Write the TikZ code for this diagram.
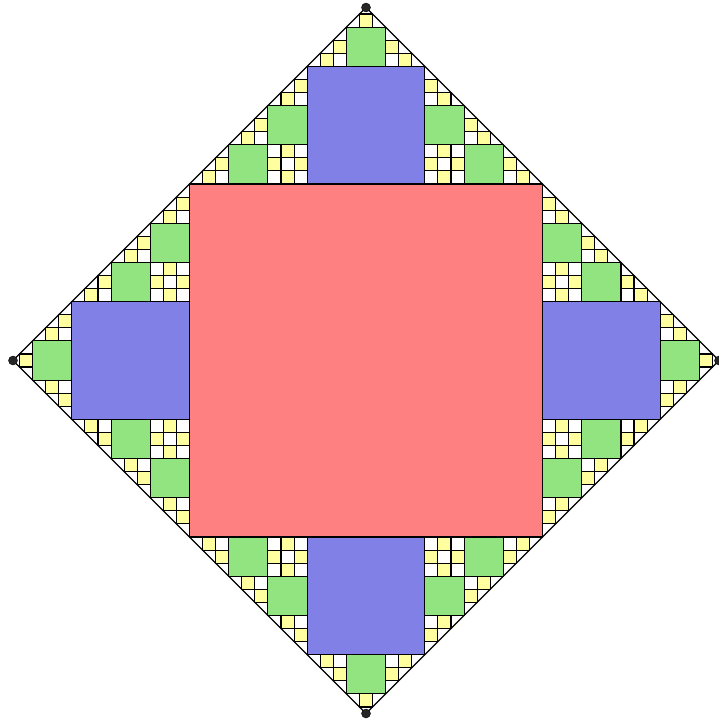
\documentclass[tikz,border=0pt]{standalone}
\definecolor{cred}{RGB}{255,128,128}
\definecolor{cblue}{RGB}{128,128,230}
\definecolor{cgreen}{RGB}{145,228,128}
\definecolor{cyellow}{RGB}{255,255,160}
\tikzset{
  sq/.style={draw=black,line width=1.1pt,line join=miter},
  lev0/.style={sq,fill=cred},
  lev1/.style={sq,fill=cblue},
  lev2/.style={sq,fill=cgreen},
  lev3/.style={sq,fill=cyellow},
  edgeline/.style={draw=black,line width=1.1pt},
  vdot/.style={fill=black!85,draw=black,line width=0.4pt}
}
% #1 level, #2 #3 hypotenuse midpoint, #4 #5 half hypotenuse vector, #6 #7 apex vector
\newcommand\fractri[7]{%
  \ifnum#1<4\relax
  \begingroup
    \pgfmathsetmacro\Pax{#2+#4/3}\pgfmathsetmacro\Pay{#3+#5/3}%
    \pgfmathsetmacro\Pbx{#2-#4/3}\pgfmathsetmacro\Pby{#3-#5/3}%
    \pgfmathsetmacro\Pcx{\Pbx+2*#6/3}\pgfmathsetmacro\Pcy{\Pby+2*#7/3}%
    \pgfmathsetmacro\Pdx{\Pax+2*#6/3}\pgfmathsetmacro\Pdy{\Pay+2*#7/3}%
    \path[lev#1] (\Pax,\Pay) -- (\Pbx,\Pby) -- (\Pcx,\Pcy) -- (\Pdx,\Pdy) -- cycle;
    \pgfmathsetmacro\Hx{#4/3}\pgfmathsetmacro\Hy{#5/3}%
    \pgfmathsetmacro\Nx{#6/3}\pgfmathsetmacro\Ny{#7/3}%
    \pgfmathsetmacro\mHx{-#4/3}\pgfmathsetmacro\mHy{-#5/3}%
    \edef\Lv{\the\numexpr#1+1\relax}%
    % apex triangle
    \pgfmathsetmacro\Mx{#2+2*#6/3}\pgfmathsetmacro\My{#3+2*#7/3}%
    \edef\next{\noexpand\fractri{\Lv}{\Mx}{\My}{\Hx}{\Hy}{\Nx}{\Ny}}\next
    % corner +h, part along hypotenuse
    \pgfmathsetmacro\Mx{#2+2*#4/3}\pgfmathsetmacro\My{#3+2*#5/3}%
    \edef\next{\noexpand\fractri{\Lv}{\Mx}{\My}{\Hx}{\Hy}{\Nx}{\Ny}}\next
    % corner +h, part along square side
    \pgfmathsetmacro\Mx{#2+#4/3+#6/3}\pgfmathsetmacro\My{#3+#5/3+#7/3}%
    \edef\next{\noexpand\fractri{\Lv}{\Mx}{\My}{\Nx}{\Ny}{\Hx}{\Hy}}\next
    % corner -h, part along hypotenuse
    \pgfmathsetmacro\Mx{#2-2*#4/3}\pgfmathsetmacro\My{#3-2*#5/3}%
    \edef\next{\noexpand\fractri{\Lv}{\Mx}{\My}{\Hx}{\Hy}{\Nx}{\Ny}}\next
    % corner -h, part along square side
    \pgfmathsetmacro\Mx{#2-#4/3+#6/3}\pgfmathsetmacro\My{#3-#5/3+#7/3}%
    \edef\next{\noexpand\fractri{\Lv}{\Mx}{\My}{\Nx}{\Ny}{\mHx}{\mHy}}\next
  \endgroup
  \fi}
\begin{document}
\begin{tikzpicture}[x=1pt,y=-1pt]
\useasboundingbox (0,0) rectangle (718,720);
\coordinate (top) at (366,7.5);
\coordinate (bottom) at (366,713.5);
\coordinate (left) at (13,360.5);
\coordinate (right) at (719,360.5);
\path[lev0] (189.5,184) rectangle (542.5,537);
\fractri{1}{366}{184}{176.5}{0}{0}{-176.5}
\fractri{1}{366}{537}{176.5}{0}{0}{176.5}
\fractri{1}{189.5}{360.5}{0}{176.5}{-176.5}{0}
\fractri{1}{542.5}{360.5}{0}{176.5}{176.5}{0}
\path[edgeline] (top) -- (right) -- (bottom) -- (left) -- cycle;
\foreach \v in {top,right,bottom,left} \path[vdot] (\v) circle[radius=4.5];
\end{tikzpicture}
\end{document}
